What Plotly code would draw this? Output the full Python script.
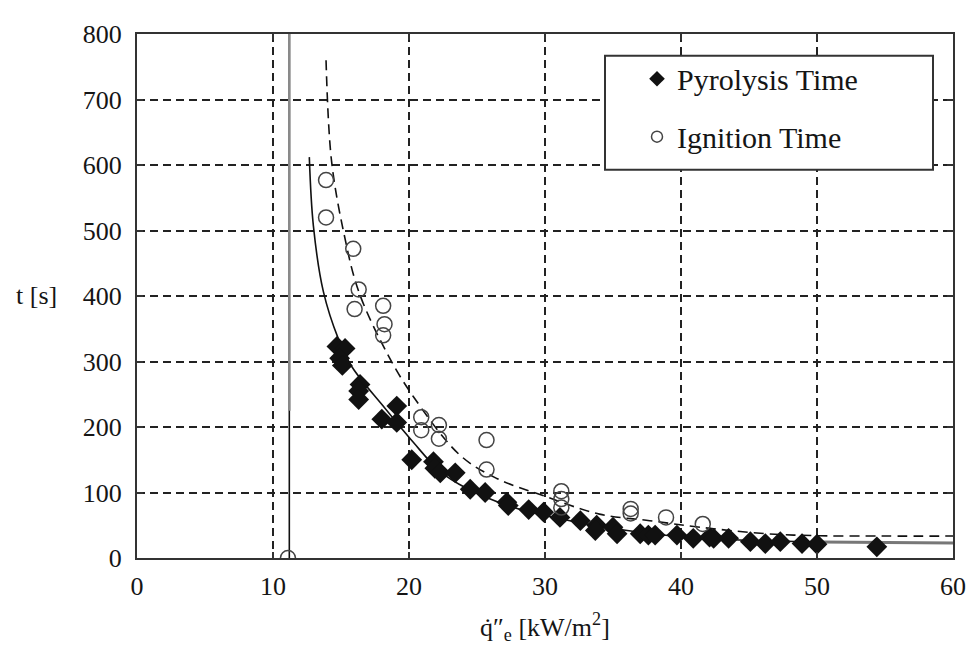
import plotly.graph_objects as go

# Pyrolysis time data (diamonds)
pyro_q = [14.7, 15.3, 14.9, 15.1, 16.4, 16.3, 16.3, 18.0, 19.1, 19.1, 20.2,
          21.8, 21.9, 22.3, 23.4, 24.5, 25.6, 27.2, 27.3, 28.8, 29.9, 31.1,
          32.6, 33.8, 33.7, 35.0, 35.3, 37.0, 37.6, 38.1, 39.7, 40.9, 42.1,
          42.4, 43.5, 45.1, 46.2, 47.3, 48.9, 50.0, 54.4]
pyro_t = [323, 320, 305, 294, 265, 255, 242, 212, 232, 207, 150,
          147, 137, 130, 130, 105, 100, 85, 80, 74, 70, 62,
          57, 50, 42, 47, 37, 37, 35, 35, 35, 30, 32,
          30, 30, 25, 22, 25, 22, 21, 17]

# Ignition time data (open circles)
ign_q = [11.1, 13.9, 13.9, 15.9, 16.3, 16.0, 18.1, 18.2, 18.1, 20.9, 20.9,
         22.2, 22.2, 25.7, 25.7, 31.2, 31.2, 31.2, 36.3, 36.3, 38.9, 41.6]
ign_t = [0, 577, 520, 472, 410, 380, 385, 357, 340, 215, 195,
         203, 182, 180, 135, 102, 90, 77, 75, 68, 62, 52]

# Fitted curve for pyrolysis time (solid)
pfit_q = [12.67, 12.97, 13.7, 14.8, 15.8, 18.1, 20.3, 22.3, 24.2, 27.7, 30.0, 35.0, 40.1, 45.0, 50.2]
pfit_t = [612, 507, 407, 335, 292, 232, 177, 132, 107, 77, 65, 45, 32, 27, 24.6]
# grey tail of the solid curve
ptail_q = [50.2, 55.0, 60.0]
ptail_t = [24.6, 23.8, 23.0]

# Fitted curve for ignition time (dashed)
ifit_q = [13.9, 14.3, 15.2, 16.3, 18.4, 20.3, 23.75, 26.4, 29.9, 34.0, 37.7, 41.4, 46.3, 50.2, 55.0, 60.0]
ifit_t = [760, 607, 497, 407, 312, 247, 157, 122, 95, 67, 57, 47, 37, 34, 33.5, 33.5]

# Critical heat flux vertical line
crit_q = [11.2, 11.2]
crit_t = [0, 800]
crit_grey_t = [225, 800]

x_ticks = [0, 10, 20, 30, 40, 50, 60]
y_ticks = [0, 100, 200, 300, 400, 500, 600, 700, 800]

FONT = "Liberation Serif, Times New Roman, serif"
INK = "#151515"

fig = go.Figure()

fig.add_trace(go.Scatter(x=crit_q, y=crit_t, mode="lines",
                         line=dict(color="#111", width=1.6), showlegend=False, hoverinfo="skip"))
fig.add_trace(go.Scatter(x=crit_q, y=crit_grey_t, mode="lines",
                         line=dict(color="#8a8a8a", width=2.5), showlegend=False, hoverinfo="skip"))
fig.add_trace(go.Scatter(x=pfit_q, y=pfit_t, mode="lines", line_shape="spline",
                         line=dict(color="#111", width=1.6), showlegend=False, hoverinfo="skip"))
fig.add_trace(go.Scatter(x=ptail_q, y=ptail_t, mode="lines",
                         line=dict(color="#777", width=3), showlegend=False, hoverinfo="skip"))
fig.add_trace(go.Scatter(x=ifit_q, y=ifit_t, mode="lines", line_shape="spline",
                         line=dict(color="#111", width=1.6, dash="10px,6px"), showlegend=False, hoverinfo="skip"))

fig.add_trace(go.Scatter(x=pyro_q, y=pyro_t, mode="markers",
                         marker=dict(symbol="diamond", size=16, color="#111", line=dict(width=0)),
                         showlegend=False))
fig.add_trace(go.Scatter(x=ign_q, y=ign_t, mode="markers",
                         marker=dict(symbol="circle-open", size=15, color="#444", line=dict(width=1.5)),
                         showlegend=False))

# legend-only entries with smaller markers
fig.add_trace(go.Scatter(x=[None], y=[None], mode="markers", name="Pyrolysis Time",
                         legendgroup="a",
                         marker=dict(symbol="diamond", size=12, color="#111")))
fig.add_trace(go.Scatter(x=[None], y=[None], mode="markers", name="Ignition Time",
                         legendgroup="b",
                         marker=dict(symbol="circle-open", size=11, color="#444", line=dict(width=1.5))))

axis_common = dict(
    showline=True, linecolor="#333", linewidth=2, mirror="ticks",
    ticks="inside", ticklen=6, tickwidth=1.5, tickcolor="#333",
    showgrid=True, gridcolor="#222", gridwidth=1.5, griddash="8px,5px",
    zeroline=False, tickfont=dict(family=FONT, size=26, color=INK),
)

fig.update_xaxes(range=[0, 60], tickvals=x_ticks, ticklabelstandoff=4, **axis_common)
fig.update_yaxes(range=[0, 800], tickvals=y_ticks, ticklabelstandoff=8, **axis_common)

# legend frame (plot-area fractions)
fig.add_shape(type="rect", xref="paper", yref="paper",
              x0=(605 - 137) / 816, x1=(933 - 137) / 816,
              y0=(558 - 163) / 533, y1=(558 - 47) / 533,
              line=dict(color="#333", width=2), fillcolor="white", layer="above")

fig.add_annotation(text="t [s]", xref="paper", yref="paper",
                   x=(36 - 137) / 816, y=(558 - 291) / 533, showarrow=False,
                   xanchor="center", yanchor="middle",
                   font=dict(family=FONT, size=26, color=INK))
fig.add_annotation(text="q\u0307\u2033<sub>e</sub> [kW/m<sup>2</sup>]", xref="paper", yref="paper",
                   x=(545 - 137) / 816, y=(558 - 628) / 533, showarrow=False,
                   xanchor="center", yanchor="middle",
                   font=dict(family=FONT, size=26, color=INK))

# The page body has an 8px margin: compensate so the plot area sits at
# x 137..953, y 25..558 in the 976x660 window.
fig.update_layout(
    width=976, height=660,
    margin=dict(l=129, r=31, t=17, b=110),
    paper_bgcolor="white", plot_bgcolor="white",
    font=dict(family=FONT, color=INK),
    legend=dict(x=(637 - 137) / 816, y=(558 - 44) / 533, xanchor="left", yanchor="top",
                bgcolor="rgba(0,0,0,0)", borderwidth=0,
                font=dict(family=FONT, size=30, color=INK),
                tracegroupgap=16, traceorder="grouped"),
)

fig.write_html("out.html")
